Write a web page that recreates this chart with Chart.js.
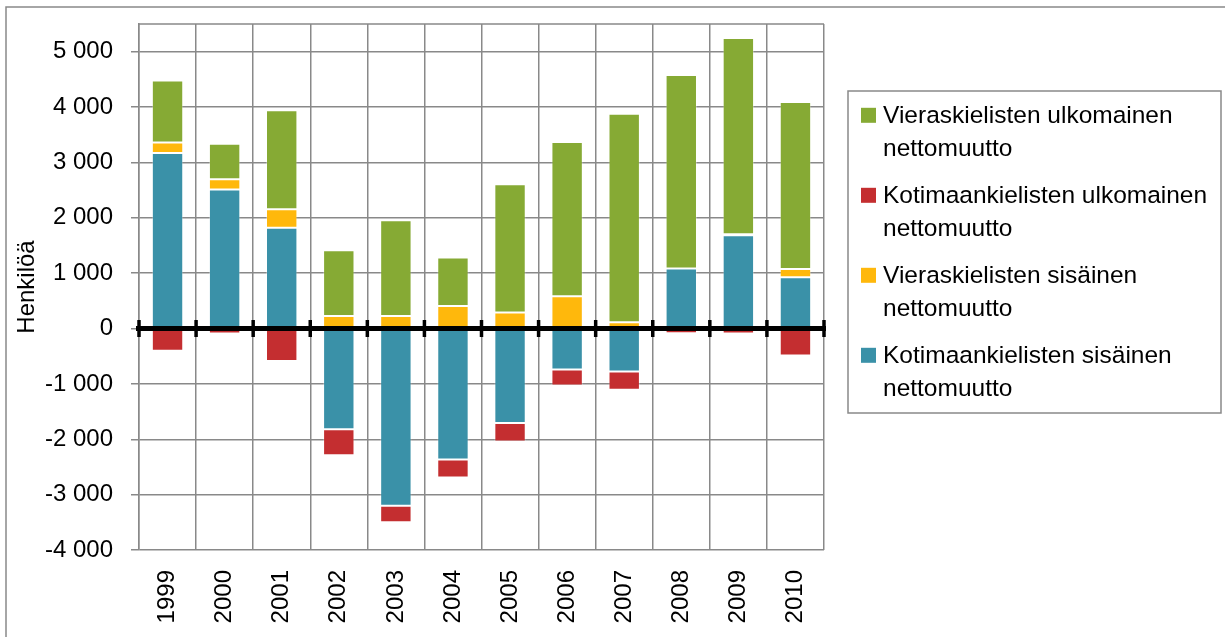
<!DOCTYPE html>
<html>
<head>
<meta charset="utf-8">
<script src="https://cdn.jsdelivr.net/npm/chart.js@4"></script>
<style>
    body { margin: 0; background: #fff; }
    #wrap { width: 1225px; height: 637px; }
</style>
</head>
<body>
<div id="wrap"><canvas id="muutto"></canvas></div>
<script>
var vuodet = ['1999', '2000', '2001', '2002', '2003', '2004', '2005', '2006', '2007', '2008', '2009', '2010'];

// Kotimaankielisten sisäinen nettomuutto
var kotiSisainen = [3170, 2510, 1820, -1820, -3200, -2365, -1705, -740, -775, 1085, 1685, 925];
// Vieraskielisten sisäinen nettomuutto
var vierasSisainen = [190, 185, 335, 225, 225, 405, 290, 585, 115, 0, 18, 150];
// Kotimaankielisten ulkomainen nettomuutto
var kotiUlkomainen = [-400, -90, -585, -470, -300, -325, -335, -290, -330, -85, -90, -485];
// Vieraskielisten ulkomainen nettomuutto
var vierasUlkomainen = [1120, 640, 1785, 1190, 1730, 880, 2315, 2785, 3765, 3495, 3545, 3015];

var yTicks = [-4000, -3000, -2000, -1000, 0, 1000, 2000, 3000, 4000, 5000];

var fontti = "'Liberation Sans', Arial, sans-serif";
var harmaa = '#898989';

function muotoile(v) {
    var s = Math.abs(v).toString().replace(/\B(?=(\d{3})+(?!\d))/g, ' ');
    return (v < 0 ? '-' : '') + s;
}

function rivita(ctx, teksti, leveys) {
    var sanat = teksti.split(' ');
    var rivit = [];
    var rivi = '';
    sanat.forEach(function (sana) {
        var koe = rivi ? rivi + ' ' + sana : sana;
        if (rivi && ctx.measureText(koe).width > leveys) {
            rivit.push(rivi);
            rivi = sana;
        } else {
            rivi = koe;
        }
    });
    if (rivi) rivit.push(rivi);
    return rivit;
}

var koristeet = {
    id: 'koristeet',
    beforeDraw: function (chart) {
        var ctx = chart.ctx;
        ctx.save();
        ctx.strokeStyle = harmaa;
        ctx.lineWidth = 1.5;
        ctx.beginPath();
        ctx.moveTo(6, chart.height);
        ctx.lineTo(6, 7);
        ctx.lineTo(chart.width, 7);
        ctx.stroke();
        ctx.restore();
    },
    afterDatasetsDraw: function (chart) {
        var ctx = chart.ctx;
        var a = chart.chartArea;
        var x = chart.scales.x;
        var y0 = chart.scales.y.getPixelForValue(0);
        ctx.save();
        // kehyksen yläreuna
        ctx.strokeStyle = harmaa;
        ctx.lineWidth = 1.5;
        ctx.beginPath();
        ctx.moveTo(a.left, a.top);
        ctx.lineTo(a.right, a.top);
        ctx.stroke();
        // nollaviiva
        ctx.strokeStyle = '#000';
        ctx.lineWidth = 5;
        ctx.beginPath();
        ctx.moveTo(a.left - 3, y0);
        ctx.lineTo(a.right + 2, y0);
        ctx.stroke();
        // väliviivat
        ctx.lineWidth = 3.5;
        var n = vuodet.length;
        for (var i = 0; i <= n; i++) {
            var px;
            if (i === 0) px = a.left;
            else if (i === n) px = a.right;
            else px = (x.getPixelForValue(i - 1) + x.getPixelForValue(i)) / 2;
            ctx.beginPath();
            ctx.moveTo(px, y0 - 8.5);
            ctx.lineTo(px, y0 + 8.5);
            ctx.stroke();
        }
        ctx.restore();
    },
    afterDraw: function (chart) {
        var ctx = chart.ctx;
        ctx.save();
        ctx.strokeStyle = harmaa;
        ctx.lineWidth = 1.5;
        ctx.strokeRect(848, 91, 373, 322);
        ctx.font = '24.5px ' + fontti;
        ctx.textBaseline = 'alphabetic';
        ctx.textAlign = 'left';
        var sets = chart.data.datasets.slice().reverse();
        sets.forEach(function (ds, i) {
            var base = 123.3 + 80 * i;
            ctx.fillStyle = ds.backgroundColor;
            ctx.fillRect(861, base - 15.5, 15, 15);
            ctx.fillStyle = '#000';
            rivita(ctx, ds.label, 333).forEach(function (r, j) {
                ctx.fillText(r, 883, base + 32.7 * j);
            });
        });
        ctx.restore();
    }
};

var ctx = document.getElementById('muutto');
new Chart(ctx, {
    type: 'bar',
    data: {
        labels: vuodet,
        datasets: [{
            label: 'Kotimaankielisten sisäinen nettomuutto',
            data: kotiSisainen,
            backgroundColor: '#3A91A8'
        }, {
            label: 'Vieraskielisten sisäinen nettomuutto',
            data: vierasSisainen,
            backgroundColor: '#FFB80C'
        }, {
            label: 'Kotimaankielisten ulkomainen nettomuutto',
            data: kotiUlkomainen,
            backgroundColor: '#C42E30'
        }, {
            label: 'Vieraskielisten ulkomainen nettomuutto',
            data: vierasUlkomainen,
            backgroundColor: '#86AA34'
        }]
    },
    options: {
        responsive: true,
        maintainAspectRatio: false,
        animation: false,
        events: [],
        layout: { padding: { left: 0, top: 24, right: 401, bottom: 0 } },
        datasets: {
            bar: {
                categoryPercentage: 0.55,
                barPercentage: 1,
                borderWidth: 1,
                borderColor: 'rgba(255, 255, 255, 0.3)',
                borderSkipped: false
            }
        },
        plugins: {
            legend: { display: false },
            tooltip: { enabled: false }
        },
        scales: {
            x: {
                stacked: true,
                offset: true,
                grid: { offset: true, color: harmaa, lineWidth: 1.5, drawTicks: false },
                border: { display: false },
                ticks: {
                    autoSkip: false,
                    minRotation: 90,
                    maxRotation: 90,
                    padding: 20,
                    color: '#000',
                    font: { family: fontti, size: 24 }
                },
                afterFit: function (scale) { scale.height = 87; }
            },
            y: {
                stacked: true,
                min: -4000,
                max: 5500,
                afterBuildTicks: function (scale) {
                    scale.ticks = yTicks.map(function (v) { return { value: v }; });
                },
                grid: { color: harmaa, lineWidth: 1.5, tickLength: 8 },
                border: { display: true, color: harmaa, width: 1.5 },
                ticks: {
                    padding: 18,
                    color: '#000',
                    font: { family: fontti, size: 24 },
                    callback: function (v) { return muotoile(v); }
                },
                title: {
                    display: true,
                    text: 'Henkilöä',
                    color: '#000',
                    font: { family: fontti, size: 24 },
                    padding: { top: 13, bottom: 0 }
                },
                afterFit: function (scale) {
                    scale.width = 139;
                    scale.paddingTop = 0;
                    scale.paddingBottom = 0;
                }
            }
        }
    },
    plugins: [koristeet]
});
</script>
</body>
</html>
